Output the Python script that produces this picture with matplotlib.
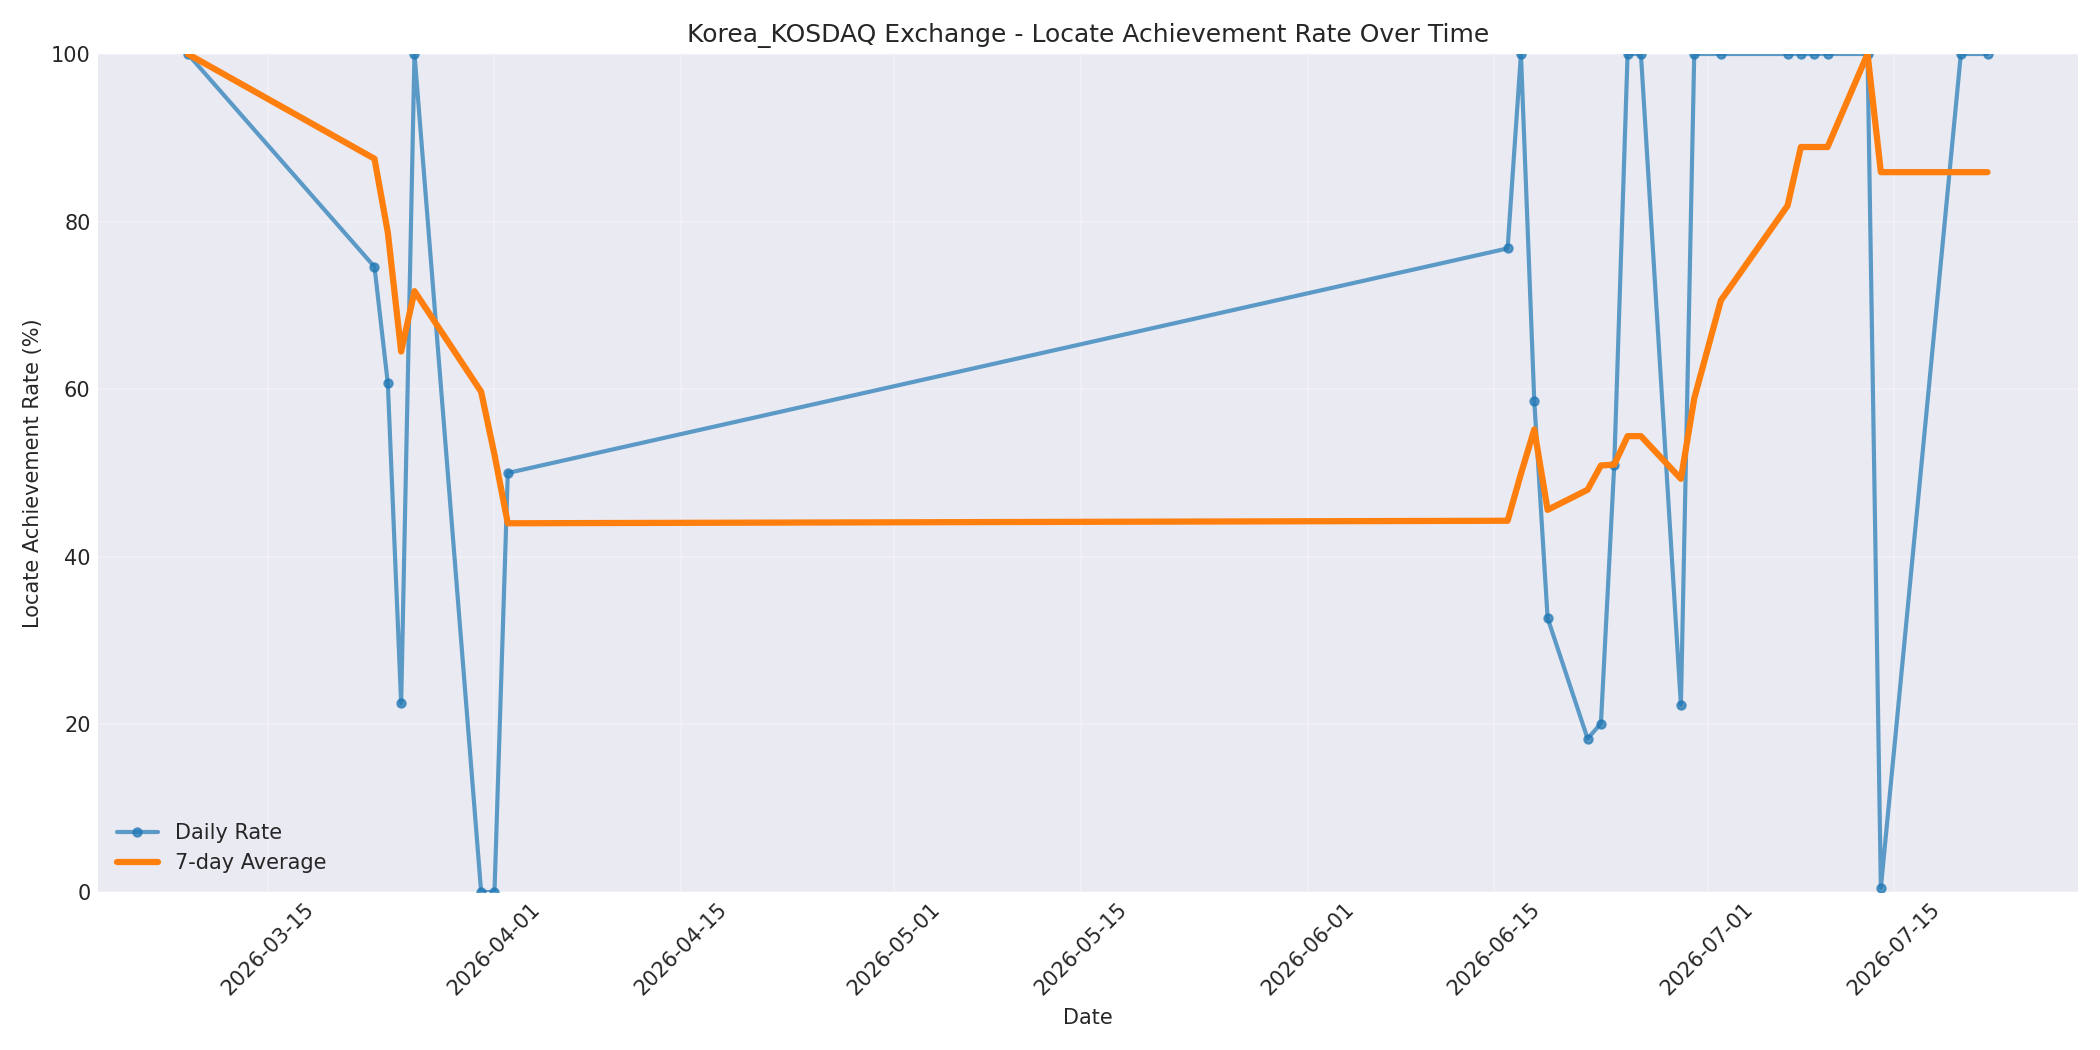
import pandas as pd
import matplotlib
matplotlib.use("Agg")
import matplotlib.pyplot as plt

plt.style.use("seaborn-v0_8-darkgrid")
plt.rcParams["font.family"] = ["DejaVu Sans"]

dates = ["2026-03-09", "2026-03-23", "2026-03-24", "2026-03-25", "2026-03-26",
         "2026-03-31", "2026-04-01", "2026-04-02", "2026-06-16", "2026-06-17",
         "2026-06-18", "2026-06-19", "2026-06-22", "2026-06-23", "2026-06-24",
         "2026-06-25", "2026-06-26", "2026-06-29", "2026-06-30", "2026-07-02",
         "2026-07-07", "2026-07-08", "2026-07-09", "2026-07-10", "2026-07-13",
         "2026-07-14", "2026-07-20", "2026-07-22"]

# daily locate achievement rate (%)
daily_rate = [100.0, 74.6, 60.7, 22.5, 100.0,
              0.0, 0.0, 50.0, 76.8, 100.0,
              58.6, 32.7, 18.3, 20.1, 51.0,
              100.0, 100.0, 22.3, 100.0, 100.0,
              100.0, 100.0, 100.0, 100.0, 100.0,
              0.5, 100.0, 100.0]

# 7-day rolling average (%)
avg_7d = [100.0, 87.5, 78.7, 64.5, 71.7,
          59.7, 52.2, 44.0, 44.3, 49.9,
          55.2, 45.6, 48.0, 50.9, 51.0,
          54.4, 54.4, 49.3, 58.9, 70.6,
          81.9, 88.9, 88.9, 88.9, 100.0,
          85.9, 85.9, 85.9]

x = pd.to_datetime(dates)

fig, ax = plt.subplots(figsize=(14, 7), dpi=150)

ax.plot(x, daily_rate, marker="o", markersize=4, linewidth=2, alpha=0.7,
        color="#1f77b4", label="Daily Rate")
ax.plot(x, avg_7d, linewidth=3, color="#ff7f0e", label="7-day Average")

ax.set_ylim(0, 100)
ax.set_title("Korea_KOSDAQ Exchange - Locate Achievement Rate Over Time")
ax.set_xlabel("Date")
ax.set_ylabel("Locate Achievement Rate (%)")
ax.legend(loc="lower left")
ax.grid(True, alpha=0.3)
plt.xticks(rotation=45)
plt.tight_layout()
plt.savefig("out.png")
